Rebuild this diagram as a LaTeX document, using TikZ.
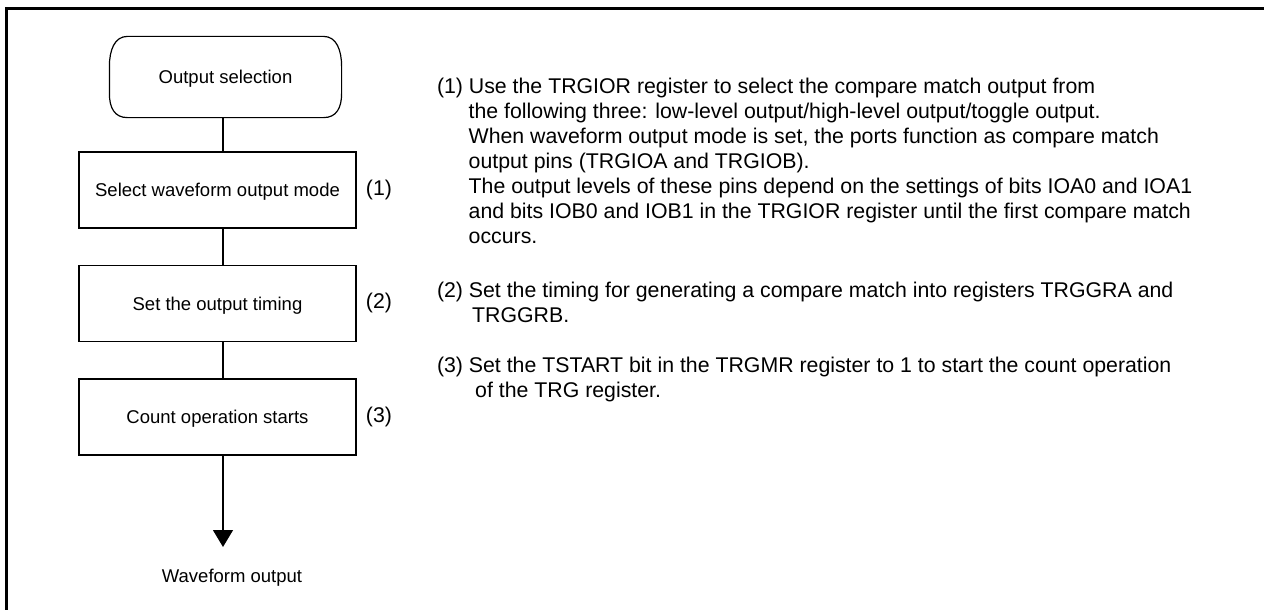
\documentclass[tikz,border=0pt]{standalone}
\usepackage{fontspec}
\setmainfont{Liberation Sans}
\usetikzlibrary{arrows.meta,calc}
\begin{document}
\begin{tikzpicture}[x=1pt,y=-1pt,
  flow/.style={line width=1.2pt, font=\fontsize{18.5}{22}\selectfont, text height=13.25pt, text depth=0pt, inner sep=0pt},
  stepbox/.style={flow, draw, rectangle, minimum width=277pt, minimum height=76pt},
  term/.style={flow, rectangle, minimum width=231pt, minimum height=80pt},
  conn/.style={line width=1.2pt},
  numlbl/.style={font=\fontsize{21.3}{25}\selectfont, anchor=base, inner sep=0pt},
  txt/.style={font=\fontsize{21.3}{25}\selectfont, anchor=base west, inner sep=0pt},
  small/.style={font=\fontsize{18.5}{22}\selectfont, anchor=base, inner sep=0pt}
]
\useasboundingbox (0,0) rectangle (1264,610);
\draw[line width=3pt] (6.3,612) -- (6.3,8.3) -- (1266,8.3);

% flow chart
\node[term] (start) at (225.5,77) {Output selection};
\draw[conn]
  ($(start.north west)+(18,0)$) -- ($(start.north east)+(-18,0)$)
  .. controls ($(start.north east)+(-5,0)$) and ($(start.north east)+(0,14)$) .. ($(start.north east)+(0,30)$)
  -- ($(start.south east)+(0,-24)$)
  .. controls ($(start.south east)+(0,-10)$) and ($(start.south east)+(-5,0)$) .. ($(start.south east)+(-18,0)$)
  -- ($(start.south west)+(18,0)$)
  .. controls ($(start.south west)+(5,0)$) and ($(start.south west)+(0,-10)$) .. ($(start.south west)+(0,-24)$)
  -- ($(start.north west)+(0,30)$)
  .. controls ($(start.north west)+(0,14)$) and ($(start.north west)+(5,0)$) .. ($(start.north west)+(18,0)$)
  -- cycle;
\node[stepbox] (b1) at (217.5,190) {Select waveform output mode};
\node[stepbox] (b2) at (217.5,303.5) {Set the output timing};
\node[stepbox] (b3) at (217.5,417) {Count operation starts};
\coordinate (spine) at (223,0);
\coordinate (tip) at (223,547);
\node[small] (out) at (232,582.7) {Waveform output};

\draw[conn] (start.south -| spine) -- (b1.north -| spine);
\draw[conn] (b1.south -| spine) -- (b2.north -| spine);
\draw[conn] (b2.south -| spine) -- (b3.north -| spine);
\draw[conn, -{Triangle[width=20pt,length=17pt]}] (b3.south -| spine) -- (tip);

\node[numlbl] (l1) at (379,195) {(1)};
\node[numlbl] (l2) at (379,308.5) {(2)};
\node[numlbl] (l3) at (379,422) {(3)};

% explanations
\node[txt] (t1a) at (436.8,93) {(1) Use the TRGIOR register to select the compare match output from};
\node[txt] (t1b) at (468.5,118) {the following three: low-level output/high-level output/toggle output.};
\node[txt] (t1c) at (468.5,143) {When waveform output mode is set, the ports function as compare match};
\node[txt] (t1d) at (468.5,168) {output pins (TRGIOA and TRGIOB).};
\node[txt] (t1e) at (468.5,193) {The output levels of these pins depend on the settings of bits IOA0 and IOA1};
\node[txt] (t1f) at (468.5,218) {and bits IOB0 and IOB1 in the TRGIOR register until the first compare match};
\node[txt] (t1g) at (468.5,243) {occurs.};

\node[txt] (t2a) at (436.8,297) {(2) Set the timing for generating a compare match into registers TRGGRA and};
\node[txt] (t2b) at (472,322) {TRGGRB.};

\node[txt] (t3a) at (436.8,372) {(3) Set the TSTART bit in the TRGMR register to 1 to start the count operation};
\node[txt] (t3b) at (475,397) {of the TRG register.};
\end{tikzpicture}
\end{document}
